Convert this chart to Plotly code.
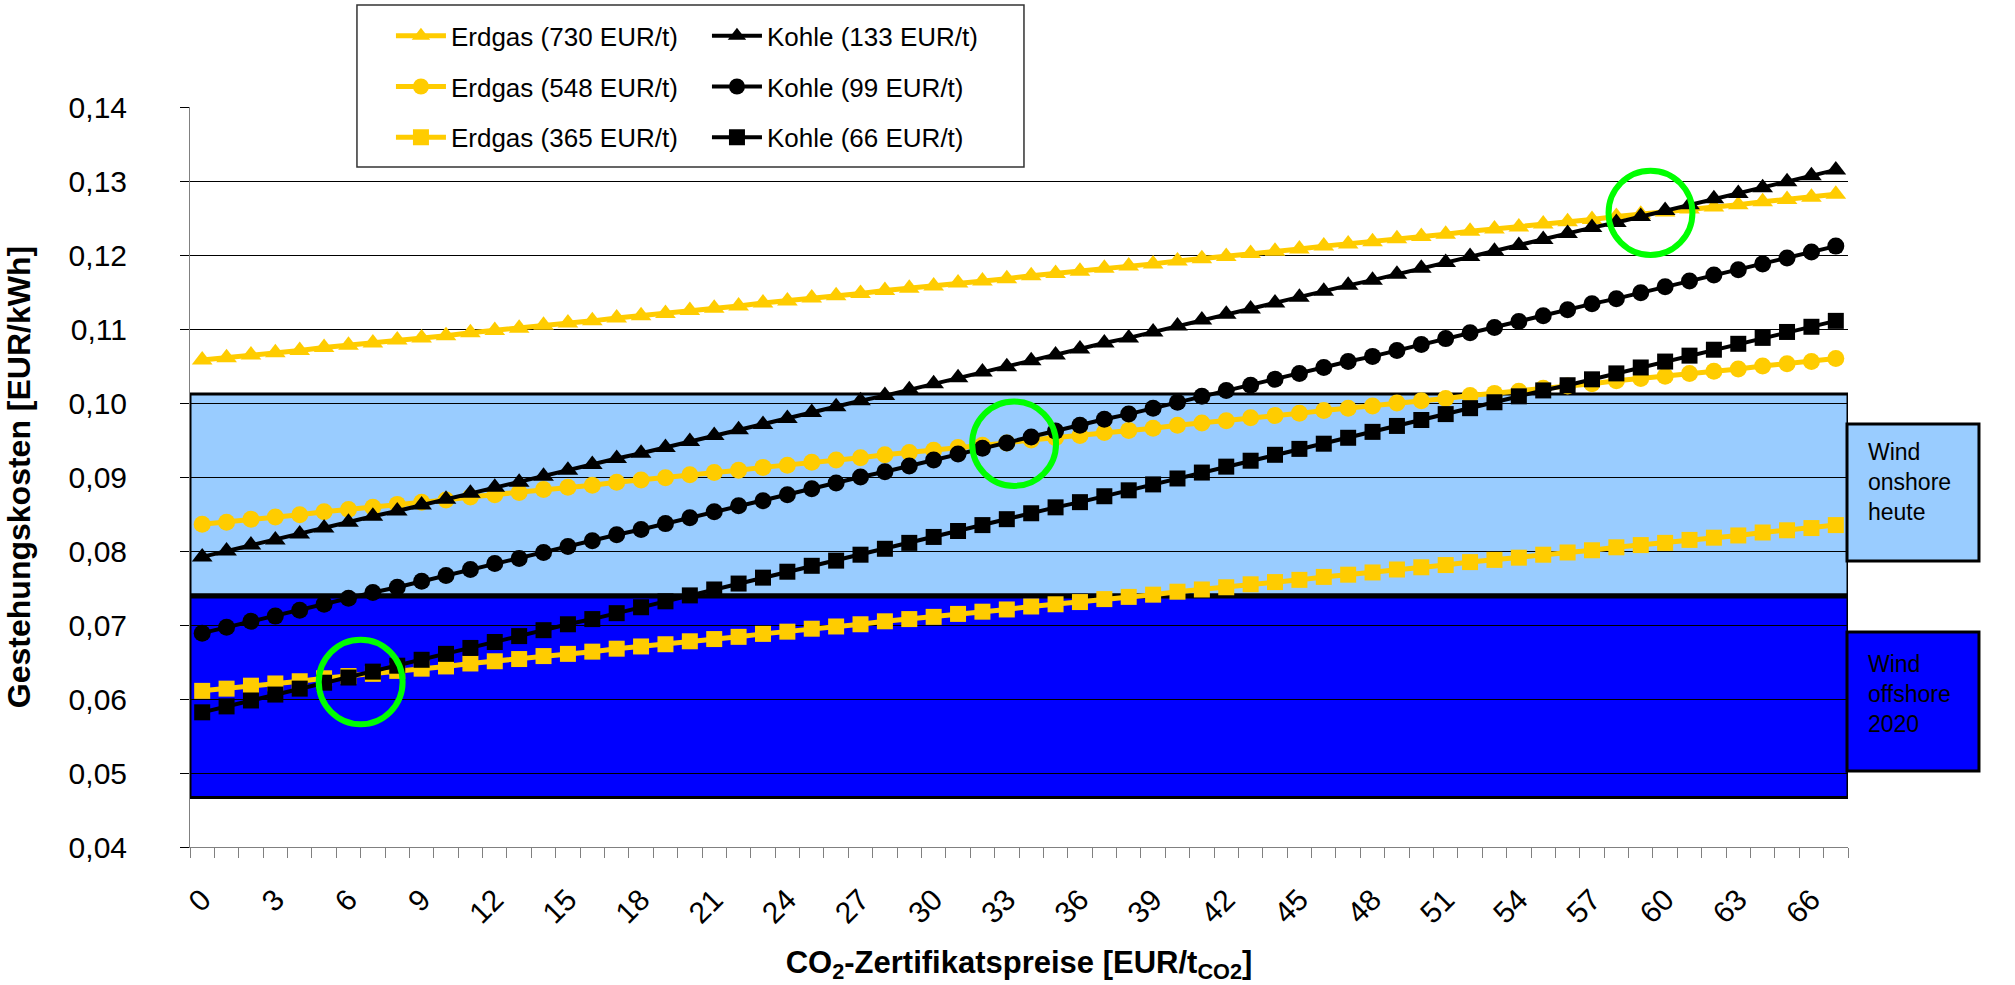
import plotly.graph_objects as go

# CO2 certificate prices [EUR/t CO2], one category per euro
co2_prices = list(range(0, 68))
tick_labels = ["0", "3", "6", "9", "12", "15", "18", "21", "24", "27", "30", "33",
               "36", "39", "42", "45", "48", "51", "54", "57", "60", "63", "66"]

# Generation costs [EUR/kWh]
erdgas_730 = [0.1058, 0.1061, 0.1065, 0.1068, 0.1071, 0.1075, 0.1078, 0.1081, 0.1085, 0.1088,
              0.1091, 0.1095, 0.1098, 0.1101, 0.1105, 0.1108, 0.1111, 0.1115, 0.1118, 0.1121,
              0.1125, 0.1128, 0.1131, 0.1135, 0.1138, 0.1142, 0.1145, 0.1148, 0.1152, 0.1155,
              0.1158, 0.1162, 0.1165, 0.1168, 0.1172, 0.1175, 0.1178, 0.1182, 0.1185, 0.1188,
              0.1192, 0.1195, 0.1198, 0.1202, 0.1205, 0.1208, 0.1212, 0.1215, 0.1218, 0.1222,
              0.1225, 0.1228, 0.1232, 0.1235, 0.1238, 0.1242, 0.1245, 0.1248, 0.1252, 0.1255,
              0.1258, 0.1262, 0.1265, 0.1268, 0.1272, 0.1275, 0.1278, 0.1282]
erdgas_548 = [0.0836, 0.0839, 0.0843, 0.0846, 0.0849, 0.0853, 0.0856, 0.0859, 0.0863, 0.0866,
              0.0869, 0.0873, 0.0876, 0.0879, 0.0883, 0.0886, 0.0889, 0.0893, 0.0896, 0.0899,
              0.0903, 0.0906, 0.0909, 0.0913, 0.0916, 0.0920, 0.0923, 0.0926, 0.0930, 0.0933,
              0.0936, 0.0940, 0.0943, 0.0946, 0.0950, 0.0953, 0.0956, 0.0960, 0.0963, 0.0966,
              0.0970, 0.0973, 0.0976, 0.0980, 0.0983, 0.0986, 0.0990, 0.0993, 0.0996, 0.1000,
              0.1003, 0.1006, 0.1010, 0.1013, 0.1016, 0.1020, 0.1023, 0.1026, 0.1030, 0.1033,
              0.1036, 0.1040, 0.1043, 0.1046, 0.1050, 0.1053, 0.1056, 0.1060]
erdgas_365 = [0.0611, 0.0614, 0.0618, 0.0621, 0.0624, 0.0628, 0.0631, 0.0634, 0.0638, 0.0641,
              0.0644, 0.0648, 0.0651, 0.0654, 0.0658, 0.0661, 0.0664, 0.0668, 0.0671, 0.0674,
              0.0678, 0.0681, 0.0684, 0.0688, 0.0691, 0.0695, 0.0698, 0.0701, 0.0705, 0.0708,
              0.0711, 0.0715, 0.0718, 0.0721, 0.0725, 0.0728, 0.0731, 0.0735, 0.0738, 0.0741,
              0.0745, 0.0748, 0.0751, 0.0755, 0.0758, 0.0761, 0.0765, 0.0768, 0.0771, 0.0775,
              0.0778, 0.0781, 0.0785, 0.0788, 0.0791, 0.0795, 0.0798, 0.0801, 0.0805, 0.0808,
              0.0811, 0.0815, 0.0818, 0.0821, 0.0825, 0.0828, 0.0831, 0.0835]
kohle_133 = [0.0792, 0.0800, 0.0808, 0.0815, 0.0823, 0.0831, 0.0839, 0.0847, 0.0854, 0.0862,
             0.0870, 0.0878, 0.0886, 0.0893, 0.0901, 0.0909, 0.0917, 0.0925, 0.0932, 0.0940,
             0.0948, 0.0956, 0.0964, 0.0971, 0.0979, 0.0987, 0.0995, 0.1003, 0.1010, 0.1018,
             0.1026, 0.1034, 0.1042, 0.1049, 0.1057, 0.1065, 0.1073, 0.1081, 0.1088, 0.1096,
             0.1104, 0.1112, 0.1120, 0.1127, 0.1135, 0.1143, 0.1151, 0.1159, 0.1166, 0.1174,
             0.1182, 0.1190, 0.1198, 0.1205, 0.1213, 0.1221, 0.1229, 0.1237, 0.1244, 0.1252,
             0.1260, 0.1268, 0.1276, 0.1283, 0.1291, 0.1299, 0.1307, 0.1315]
kohle_99 = [0.0689, 0.0697, 0.0705, 0.0712, 0.0720, 0.0728, 0.0736, 0.0744, 0.0751, 0.0759,
            0.0767, 0.0775, 0.0783, 0.0790, 0.0798, 0.0806, 0.0814, 0.0822, 0.0829, 0.0837,
            0.0845, 0.0853, 0.0861, 0.0868, 0.0876, 0.0884, 0.0892, 0.0900, 0.0907, 0.0915,
            0.0923, 0.0931, 0.0939, 0.0946, 0.0954, 0.0962, 0.0970, 0.0978, 0.0985, 0.0993,
            0.1001, 0.1009, 0.1017, 0.1024, 0.1032, 0.1040, 0.1048, 0.1056, 0.1063, 0.1071,
            0.1079, 0.1087, 0.1095, 0.1102, 0.1110, 0.1118, 0.1126, 0.1134, 0.1141, 0.1149,
            0.1157, 0.1165, 0.1173, 0.1180, 0.1188, 0.1196, 0.1204, 0.1212]
kohle_66 = [0.0582, 0.0590, 0.0598, 0.0606, 0.0614, 0.0622, 0.0629, 0.0637, 0.0645, 0.0653,
            0.0661, 0.0669, 0.0677, 0.0685, 0.0693, 0.0701, 0.0708, 0.0716, 0.0724, 0.0732,
            0.0740, 0.0748, 0.0756, 0.0764, 0.0772, 0.0780, 0.0787, 0.0795, 0.0803, 0.0811,
            0.0819, 0.0827, 0.0835, 0.0843, 0.0851, 0.0859, 0.0866, 0.0874, 0.0882, 0.0890,
            0.0898, 0.0906, 0.0914, 0.0922, 0.0930, 0.0938, 0.0945, 0.0953, 0.0961, 0.0969,
            0.0977, 0.0985, 0.0993, 0.1001, 0.1009, 0.1017, 0.1024, 0.1032, 0.1040, 0.1048,
            0.1056, 0.1064, 0.1072, 0.1080, 0.1088, 0.1096, 0.1103, 0.1111]

# Wind cost ranges [EUR/kWh]: (low, high)
wind_onshore_heute = [0.0741, 0.1012]
wind_offshore_2020 = [0.0467, 0.0738]

# Break-even points (CO2 price, cost) highlighted with rings
break_even_x = [6.5, 33.3, 59.4]
break_even_y = [0.0623, 0.0945, 0.1257]

FONT = "Liberation Sans, Arial, sans-serif"
YELLOW = "#FFCC00"
BLACK = "#000000"
MARKER_SIZE = {"triangle-up": 18, "circle": 17, "square": 16}

series = [
    ("Erdgas (730 EUR/t)", erdgas_730, YELLOW, "triangle-up", "legend"),
    ("Erdgas (548 EUR/t)", erdgas_548, YELLOW, "circle", "legend"),
    ("Erdgas (365 EUR/t)", erdgas_365, YELLOW, "square", "legend"),
    ("Kohle (133 EUR/t)", kohle_133, BLACK, "triangle-up", "legend2"),
    ("Kohle (99 EUR/t)", kohle_99, BLACK, "circle", "legend2"),
    ("Kohle (66 EUR/t)", kohle_66, BLACK, "square", "legend2"),
]

fig = go.Figure()
for name, values, color, symbol, legend in series:
    fig.add_trace(go.Scatter(
        x=co2_prices, y=values, name=name, mode="lines+markers",
        line=dict(color=color, width=5 if color == YELLOW else 4),
        marker=dict(symbol=symbol, size=MARKER_SIZE[symbol], color=color,
                    line=dict(width=0)),
        legend=legend, legendgroup=name,
    ))

x_lo = co2_prices[0] - 0.5
x_hi = co2_prices[-1] + 0.5

shapes = [
    dict(type="rect", xref="x", yref="y", x0=x_lo, x1=x_hi,
         y0=wind_onshore_heute[0], y1=wind_onshore_heute[1],
         fillcolor="#99CCFF", line=dict(color=BLACK, width=3), layer="below"),
    dict(type="rect", xref="x", yref="y", x0=x_lo, x1=x_hi,
         y0=wind_offshore_2020[0], y1=wind_offshore_2020[1],
         fillcolor="#0000FF", line=dict(color=BLACK, width=3), layer="below"),
    # side label boxes
    dict(type="rect", xref="paper", yref="paper", x0=0.9994, x1=1.079, y0=0.3865, y1=0.5716,
         fillcolor="#99CCFF", line=dict(color=BLACK, width=3), layer="above"),
    dict(type="rect", xref="paper", yref="paper", x0=0.9994, x1=1.079, y0=0.1027, y1=0.2905,
         fillcolor="#0000FF", line=dict(color=BLACK, width=3), layer="above"),
    # legend frame
    dict(type="rect", xref="paper", yref="paper", x0=0.1007, x1=0.503, y0=0.919, y1=1.138,
         fillcolor="white", line=dict(color="#333333", width=1.5), layer="above"),
]
rx, ry = 1.72, 0.0057
for bx, by in zip(break_even_x, break_even_y):
    shapes.append(dict(type="circle", xref="x", yref="y",
                       x0=bx - rx, x1=bx + rx, y0=by - ry, y1=by + ry,
                       line=dict(color="#00FF00", width=6), layer="above"))

annotations = [
    dict(xref="paper", yref="paper", x=1.0109, y=0.4932, xanchor="left", yanchor="middle",
         text="Wind<br>onshore<br>heute", align="left", showarrow=False,
         font=dict(family=FONT, size=23, color=BLACK)),
    dict(xref="paper", yref="paper", x=1.0109, y=0.2068, xanchor="left", yanchor="middle",
         text="Wind<br>offshore<br>2020", align="left", showarrow=False,
         font=dict(family=FONT, size=23, color=BLACK)),
]

legend_common = dict(
    bgcolor="rgba(0,0,0,0)", borderwidth=0, yanchor="top", xanchor="left",
    font=dict(family=FONT, size=26, color=BLACK),
    traceorder="grouped", tracegroupgap=14, itemwidth=50,
)

fig.update_layout(
    width=2015, height=985, autosize=False,
    margin=dict(l=190, r=167, t=107, b=138),
    paper_bgcolor="white", plot_bgcolor="white",
    separators=",.",
    font=dict(family=FONT, color=BLACK),
    shapes=shapes, annotations=annotations,
    legend=dict(x=0.1212, y=1.128, **legend_common),
    legend2=dict(x=0.3118, y=1.128, **legend_common),
    xaxis=dict(
        range=[x_lo, x_hi], tickmode="array",
        tickvals=[int(t) for t in tick_labels], ticktext=tick_labels,
        tickangle=-45, ticks="", ticklabelstandoff=22,
        tickfont=dict(family=FONT, size=30, color=BLACK),
        minor=dict(tickmode="linear", tick0=x_lo, dtick=1, ticks="outside",
                   ticklen=10, tickcolor="#808080", tickwidth=1, showgrid=False),
        showgrid=False, zeroline=False,
        showline=True, linecolor="#808080", linewidth=1,
        title=dict(text="CO<sub>2</sub>-Zertifikatspreise [EUR/t<sub>CO2</sub>]",
                   font=dict(family=FONT, size=31, color=BLACK, weight="bold"), standoff=22),
    ),
    yaxis=dict(
        range=[0.04, 0.14], tick0=0.04, dtick=0.01, tickformat=".2f",
        ticks="outside", ticklen=9, tickcolor=BLACK, tickwidth=1, ticklabelstandoff=47,
        tickfont=dict(family=FONT, size=30, color=BLACK),
        showgrid=True, gridcolor=BLACK, gridwidth=1, zeroline=False,
        showline=True, linecolor="#808080", linewidth=1,
        title=dict(text="Gestehungskosten [EUR/kWh]",
                   font=dict(family=FONT, size=32, color=BLACK, weight="bold"), standoff=28),
    ),
    showlegend=True,
)

fig.write_html("out.html")
